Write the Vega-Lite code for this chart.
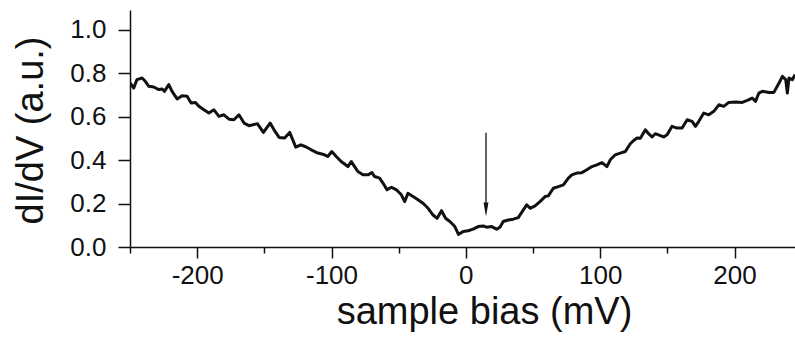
{
  "$schema": "https://vega.github.io/schema/vega-lite/v6.json",
  "width": 665,
  "height": 237,
  "autosize": {"type": "none"},
  "padding": {"left": 130, "top": 10, "right": 0, "bottom": 91},
  "background": "white",
  "config": {
    "view": {"stroke": null},
    "font": "Liberation Sans",
    "axis": {
      "labelFont": "Liberation Sans",
      "titleFont": "Liberation Sans",
      "labelColor": "#111",
      "titleColor": "#111",
      "domainColor": "#111",
      "tickColor": "#111",
      "domainWidth": 1.5,
      "tickWidth": 1.5,
      "grid": false,
      "titleFontWeight": "normal"
    }
  },
  "datasets": {
    "curve": [
      {"bias": -249.8, "didv": 0.754},
      {"bias": -247.2, "didv": 0.731},
      {"bias": -244.8, "didv": 0.770},
      {"bias": -241.0, "didv": 0.777},
      {"bias": -238.6, "didv": 0.762},
      {"bias": -236.0, "didv": 0.739},
      {"bias": -232.3, "didv": 0.736},
      {"bias": -228.6, "didv": 0.724},
      {"bias": -226.1, "didv": 0.727},
      {"bias": -224.4, "didv": 0.716},
      {"bias": -221.1, "didv": 0.747},
      {"bias": -218.7, "didv": 0.716},
      {"bias": -214.9, "didv": 0.681},
      {"bias": -211.2, "didv": 0.696},
      {"bias": -207.5, "didv": 0.693},
      {"bias": -204.5, "didv": 0.662},
      {"bias": -201.3, "didv": 0.665},
      {"bias": -198.7, "didv": 0.647},
      {"bias": -195.0, "didv": 0.631},
      {"bias": -191.3, "didv": 0.616},
      {"bias": -187.5, "didv": 0.631},
      {"bias": -183.8, "didv": 0.601},
      {"bias": -180.1, "didv": 0.608},
      {"bias": -176.3, "didv": 0.588},
      {"bias": -172.6, "didv": 0.585},
      {"bias": -168.9, "didv": 0.608},
      {"bias": -165.1, "didv": 0.570},
      {"bias": -161.4, "didv": 0.558},
      {"bias": -155.2, "didv": 0.567},
      {"bias": -150.7, "didv": 0.527},
      {"bias": -145.7, "didv": 0.570},
      {"bias": -142.8, "didv": 0.539},
      {"bias": -139.0, "didv": 0.504},
      {"bias": -134.9, "didv": 0.501},
      {"bias": -131.1, "didv": 0.527},
      {"bias": -126.6, "didv": 0.459},
      {"bias": -122.9, "didv": 0.470},
      {"bias": -119.2, "didv": 0.461},
      {"bias": -115.1, "didv": 0.447},
      {"bias": -110.2, "didv": 0.432},
      {"bias": -105.2, "didv": 0.424},
      {"bias": -102.8, "didv": 0.416},
      {"bias": -99.8, "didv": 0.439},
      {"bias": -96.5, "didv": 0.416},
      {"bias": -92.8, "didv": 0.393},
      {"bias": -87.8, "didv": 0.370},
      {"bias": -85.3, "didv": 0.393},
      {"bias": -82.8, "didv": 0.370},
      {"bias": -80.4, "didv": 0.347},
      {"bias": -76.6, "didv": 0.332},
      {"bias": -72.9, "didv": 0.332},
      {"bias": -69.9, "didv": 0.342},
      {"bias": -67.9, "didv": 0.324},
      {"bias": -64.2, "didv": 0.317},
      {"bias": -61.7, "didv": 0.294},
      {"bias": -58.7, "didv": 0.263},
      {"bias": -55.4, "didv": 0.275},
      {"bias": -51.7, "didv": 0.263},
      {"bias": -48.0, "didv": 0.240},
      {"bias": -45.5, "didv": 0.209},
      {"bias": -43.1, "didv": 0.247},
      {"bias": -39.3, "didv": 0.232},
      {"bias": -35.6, "didv": 0.217},
      {"bias": -31.9, "didv": 0.201},
      {"bias": -28.1, "didv": 0.178},
      {"bias": -24.4, "didv": 0.147},
      {"bias": -21.4, "didv": 0.132},
      {"bias": -18.1, "didv": 0.167},
      {"bias": -15.1, "didv": 0.132},
      {"bias": -11.9, "didv": 0.117},
      {"bias": -8.2, "didv": 0.094},
      {"bias": -5.5, "didv": 0.058},
      {"bias": -2.0, "didv": 0.071},
      {"bias": 1.7, "didv": 0.075},
      {"bias": 5.4, "didv": 0.082},
      {"bias": 9.2, "didv": 0.094},
      {"bias": 12.9, "didv": 0.097},
      {"bias": 15.4, "didv": 0.091},
      {"bias": 19.2, "didv": 0.094},
      {"bias": 22.9, "didv": 0.082},
      {"bias": 25.4, "didv": 0.091},
      {"bias": 27.8, "didv": 0.117},
      {"bias": 31.6, "didv": 0.124},
      {"bias": 35.3, "didv": 0.128},
      {"bias": 39.0, "didv": 0.135},
      {"bias": 42.8, "didv": 0.171},
      {"bias": 45.3, "didv": 0.194},
      {"bias": 47.8, "didv": 0.178},
      {"bias": 51.5, "didv": 0.189},
      {"bias": 55.2, "didv": 0.209},
      {"bias": 59.0, "didv": 0.232},
      {"bias": 61.4, "didv": 0.235},
      {"bias": 65.1, "didv": 0.270},
      {"bias": 68.9, "didv": 0.278},
      {"bias": 72.6, "didv": 0.286},
      {"bias": 76.3, "didv": 0.317},
      {"bias": 78.9, "didv": 0.332},
      {"bias": 82.6, "didv": 0.340},
      {"bias": 86.3, "didv": 0.342},
      {"bias": 90.1, "didv": 0.355},
      {"bias": 93.8, "didv": 0.370},
      {"bias": 97.5, "didv": 0.378},
      {"bias": 101.3, "didv": 0.388},
      {"bias": 105.0, "didv": 0.370},
      {"bias": 107.5, "didv": 0.401},
      {"bias": 111.2, "didv": 0.424},
      {"bias": 114.9, "didv": 0.432},
      {"bias": 118.7, "didv": 0.439},
      {"bias": 122.4, "didv": 0.475},
      {"bias": 124.9, "didv": 0.490},
      {"bias": 127.4, "didv": 0.501},
      {"bias": 129.9, "didv": 0.500},
      {"bias": 133.6, "didv": 0.539},
      {"bias": 136.0, "didv": 0.521},
      {"bias": 138.6, "didv": 0.506},
      {"bias": 141.0, "didv": 0.521},
      {"bias": 144.8, "didv": 0.512},
      {"bias": 147.2, "didv": 0.506},
      {"bias": 149.8, "didv": 0.516},
      {"bias": 153.5, "didv": 0.555},
      {"bias": 157.2, "didv": 0.547},
      {"bias": 161.0, "didv": 0.547},
      {"bias": 164.7, "didv": 0.585},
      {"bias": 168.4, "didv": 0.578},
      {"bias": 170.9, "didv": 0.555},
      {"bias": 173.4, "didv": 0.578},
      {"bias": 177.1, "didv": 0.616},
      {"bias": 180.8, "didv": 0.608},
      {"bias": 184.6, "didv": 0.624},
      {"bias": 188.3, "didv": 0.654},
      {"bias": 192.0, "didv": 0.647},
      {"bias": 195.7, "didv": 0.665},
      {"bias": 200.7, "didv": 0.667},
      {"bias": 205.7, "didv": 0.665},
      {"bias": 209.5, "didv": 0.674},
      {"bias": 213.2, "didv": 0.685},
      {"bias": 215.7, "didv": 0.670},
      {"bias": 218.1, "didv": 0.708},
      {"bias": 220.7, "didv": 0.716},
      {"bias": 225.6, "didv": 0.711},
      {"bias": 229.3, "didv": 0.711},
      {"bias": 233.1, "didv": 0.754},
      {"bias": 235.6, "didv": 0.785},
      {"bias": 238.1, "didv": 0.770},
      {"bias": 239.3, "didv": 0.708},
      {"bias": 240.5, "didv": 0.777},
      {"bias": 243.1, "didv": 0.770},
      {"bias": 245.0, "didv": 0.793}
    ],
    "arrow": [
      {"bias": 15, "top": 0.525, "bottom": 0.18, "head": 0.173}
    ]
  },
  "layer": [
    {
      "data": {"name": "curve"},
      "mark": {"type": "line", "color": "#111", "strokeWidth": 3, "strokeJoin": "round", "clip": true},
      "encoding": {
        "x": {
          "field": "bias",
          "type": "quantitative",
          "scale": {"domain": [-250, 245], "nice": false, "zero": false},
          "axis": {
            "title": "sample bias (mV)",
            "values": [-250, -200, -150, -100, -50, 0, 50, 100, 150, 200],
            "labelExpr": "datum.value % 100 === 0 ? (datum.value + '') : ''",
            "labelFontSize": 26,
            "labelPadding": 4,
            "labelFlush": false,
            "labelOverlap": false,
            "tickSize": {"condition": {"test": "datum.value % 100 === 0", "value": 11}, "value": 6},
            "titleFontSize": 38,
            "titleX": 354,
            "titleY": 76,
            "titleAlign": "center",
            "titleBaseline": "alphabetic"
          }
        },
        "y": {
          "field": "didv",
          "type": "quantitative",
          "scale": {"domain": [0, 1.09], "nice": false},
          "axis": {
            "title": "dI/dV (a.u.)",
            "values": [0, 0.1, 0.2, 0.3, 0.4, 0.5, 0.6, 0.7, 0.8, 0.9, 1.0],
            "labelExpr": "round(datum.value * 10) % 2 === 0 ? format(datum.value, '.1f') : ''",
            "labelFontSize": 26,
            "labelPadding": 12,
            "labelFlush": false,
            "labelOverlap": false,
            "labelBaseline": "middle",
            "tickSize": {"condition": {"test": "round(datum.value * 10) % 2 === 0", "value": 12}, "value": 7},
            "titleFontSize": 38,
            "titleX": -118,
            "titleY": 120,
            "titleAlign": "center",
            "titleBaseline": "top",
            "titleAngle": -90
          }
        }
      }
    },
    {
      "data": {"name": "arrow"},
      "mark": {"type": "rule", "color": "#111", "strokeWidth": 1.3},
      "encoding": {
        "x": {"field": "bias", "type": "quantitative"},
        "y": {"field": "top", "type": "quantitative"},
        "y2": {"field": "bottom"}
      }
    },
    {
      "data": {"name": "arrow"},
      "mark": {"type": "point", "shape": "M -0.35 -1 L 0.35 -1 L 0 1 Z", "filled": true, "color": "#111", "opacity": 1, "size": 196},
      "encoding": {
        "x": {"field": "bias", "type": "quantitative"},
        "y": {"field": "head", "type": "quantitative"}
      }
    }
  ]
}
